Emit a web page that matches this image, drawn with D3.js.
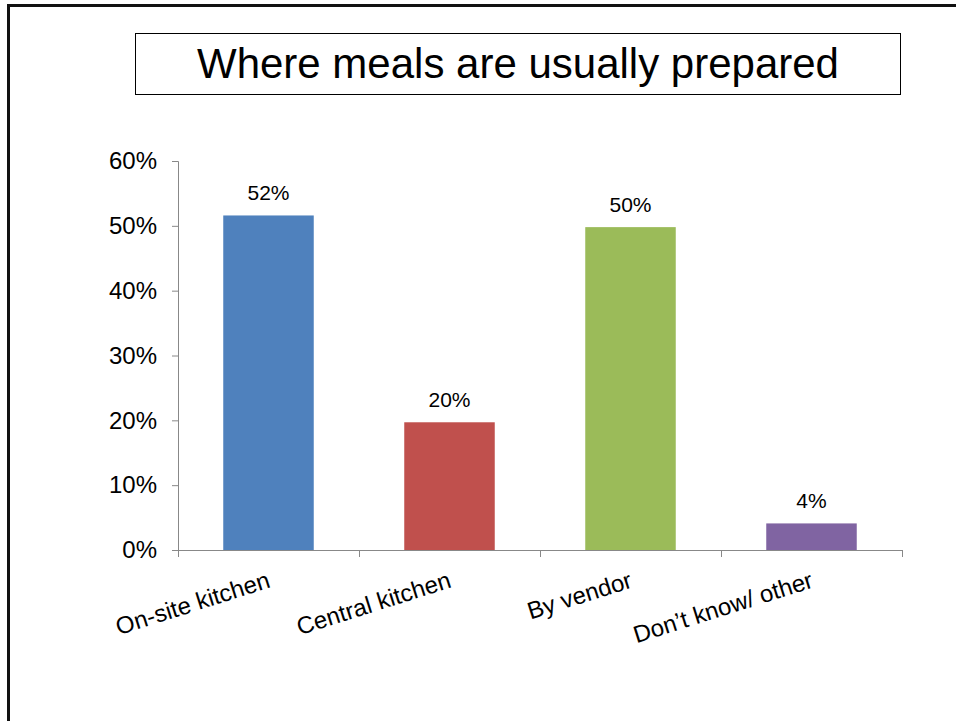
<!DOCTYPE html>
<html>
<head>
<meta charset="utf-8">
<script src="https://cdn.jsdelivr.net/npm/d3@7"></script>
<style>
  body { margin: 0; background: #fff; }
  svg { display: block; font-family: "Liberation Sans", Arial, sans-serif; }
</style>
</head>
<body>
<div id="chart"></div>
<script>
var categories = ["On-site kitchen", "Central kitchen", "By vendor", "Don\u2019t know/ other"];
var values = [0.516, 0.197, 0.498, 0.041];
var colors = ["#4F81BD", "#C0504D", "#9BBB59", "#8064A2"];
var yTicks = [0, 0.1, 0.2, 0.3, 0.4, 0.5, 0.6];
var title = "Where meals are usually prepared";

var width = 956, height = 721;
var x0 = 178, x1 = 902, yBase = 550, yTop = 161;

var svg = d3.select("#chart").append("svg")
    .attr("width", width)
    .attr("height", height);

// slide frame (only top and left visible)
svg.append("rect")
    .attr("x", 8.5).attr("y", 5.5)
    .attr("width", 1000).attr("height", 1000)
    .attr("fill", "none")
    .attr("stroke", "#111")
    .attr("stroke-width", 3);

// title box
svg.append("rect")
    .attr("x", 135.5).attr("y", 33.5)
    .attr("width", 765).attr("height", 61)
    .attr("fill", "#fff")
    .attr("stroke", "#000")
    .attr("stroke-width", 1);
svg.append("text")
    .attr("x", 518).attr("y", 78)
    .attr("text-anchor", "middle")
    .style("font-size", "42px")
    .text(title);

var xScale = d3.scaleBand()
    .domain(categories)
    .range([x0, x1])
    .paddingInner(0.5)
    .paddingOuter(0.25);
var yScale = d3.scaleLinear().domain([0, 0.6]).range([yBase, yTop]);

// y axis
var yAxis = svg.append("g")
    .attr("transform", "translate(" + x0 + ",0)")
    .call(d3.axisLeft(yScale).tickValues(yTicks).tickFormat(d3.format(".0%")).tickSize(6).tickPadding(15));
yAxis.selectAll("line, path").attr("stroke", "#888");
yAxis.selectAll("text").style("font-size", "24px").attr("fill", "#000").style("font-family", "Liberation Sans, Arial, sans-serif");

// x axis with ticks between categories
var step = xScale.step();
var bounds = d3.range(categories.length + 1).map(function(i) { return x0 + i * step; });
svg.append("line")
    .attr("x1", x0).attr("x2", x1)
    .attr("y1", yBase + 0.5).attr("y2", yBase + 0.5)
    .attr("stroke", "#888");
svg.selectAll(".xtick")
    .data(bounds)
    .enter().append("line")
    .attr("class", "xtick")
    .attr("x1", function(d) { return Math.round(d) + 0.5; })
    .attr("x2", function(d) { return Math.round(d) + 0.5; })
    .attr("y1", yBase).attr("y2", yBase + 7)
    .attr("stroke", "#888");

// bars
svg.selectAll(".bar")
    .data(values)
    .enter().append("rect")
    .attr("class", "bar")
    .attr("x", function(d, i) { return xScale(categories[i]); })
    .attr("width", xScale.bandwidth())
    .attr("y", function(d) { return yScale(d); })
    .attr("height", function(d) { return yBase - yScale(d); })
    .attr("fill", function(d, i) { return colors[i]; });

// value labels
svg.selectAll(".vlabel")
    .data(values)
    .enter().append("text")
    .attr("class", "vlabel")
    .attr("x", function(d, i) { return xScale(categories[i]) + xScale.bandwidth() / 2; })
    .attr("y", function(d) { return yScale(d) - 15; })
    .attr("text-anchor", "middle")
    .style("font-size", "21px")
    .text(function(d) { return d3.format(".0%")(d); });

// category labels, rotated
svg.selectAll(".clabel")
    .data(categories)
    .enter().append("text")
    .attr("class", "clabel")
    .attr("text-anchor", "end")
    .attr("transform", function(d) {
        var cx = xScale(d) + xScale.bandwidth() / 2;
        return "translate(" + (cx + 3) + "," + 587 + ") rotate(-17.5)";
    })
    .style("font-size", "24px")
    .text(function(d) { return d; });
</script>
</body>
</html>
